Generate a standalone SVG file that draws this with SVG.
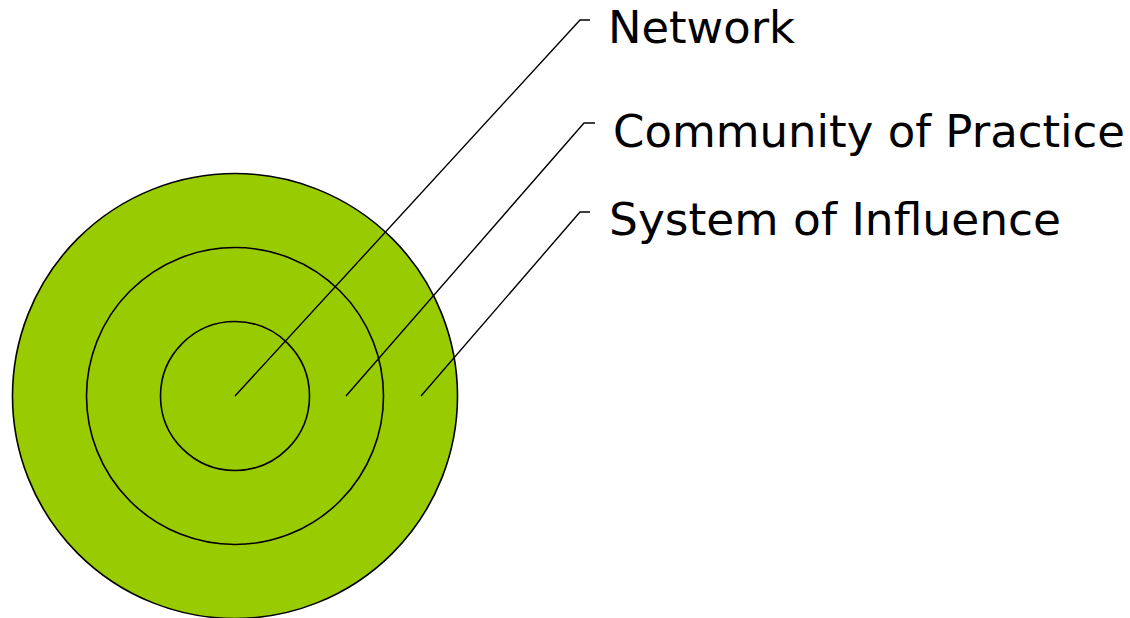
<svg xmlns="http://www.w3.org/2000/svg" width="1130" height="618" viewBox="0 0 1130 618">
<style>
.ring{fill:#99cc00;stroke:#000;stroke-width:1.6}
.lead{fill:none;stroke:#000;stroke-width:1.4}
.lbl{font-family:"DejaVu Sans","Liberation Sans",sans-serif;font-size:44px;fill:#000}
</style>
<rect width="1130" height="618" fill="#fff"/>
<g id="system-of-influence"><circle class="ring" cx="235" cy="396" r="222.5"/></g>
<g id="community-of-practice"><circle class="ring" cx="235" cy="396" r="148.5"/></g>
<g id="network"><circle class="ring" cx="235" cy="396" r="74.5"/></g>
<g id="connectors">
<polyline class="lead" points="235,396 580,20 590,20"/>
<polyline class="lead" points="346,396 584,123 595,123"/>
<polyline class="lead" points="421,396 580,212 590,212"/>
</g>
<g id="labels">
<text class="lbl" x="608" y="43" textLength="187" lengthAdjust="spacingAndGlyphs">Network</text>
<text class="lbl" x="613" y="147" textLength="512" lengthAdjust="spacingAndGlyphs">Community of Practice</text>
<text class="lbl" x="609" y="235" textLength="452" lengthAdjust="spacingAndGlyphs">System of Influence</text>
</g>
</svg>
